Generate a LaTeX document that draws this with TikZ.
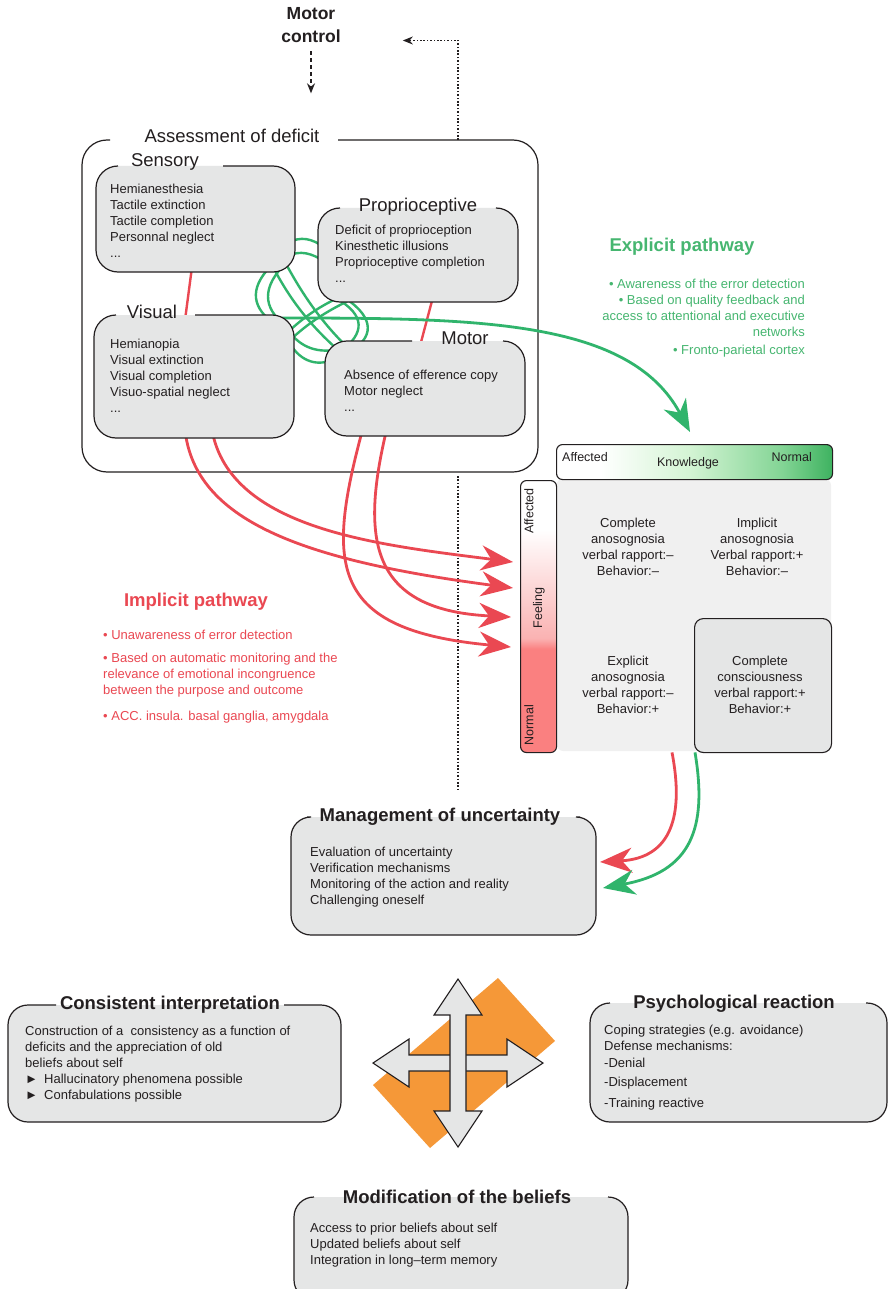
\documentclass[tikz,border=0pt]{standalone}
\usepackage{fontspec}
\setmainfont{Liberation Sans}
\usetikzlibrary{arrows.meta,calc}
\definecolor{boxgray}{RGB}{229,230,230}
\definecolor{gridgray}{RGB}{240,240,240}
\definecolor{lineC}{RGB}{35,31,32}
\definecolor{textC}{RGB}{35,31,32}
\definecolor{greenC}{RGB}{48,180,108}
\definecolor{greenT}{RGB}{70,182,112}
\definecolor{redC}{RGB}{234,72,82}
\definecolor{redT}{RGB}{234,72,82}
\definecolor{orangeC}{RGB}{245,152,56}
\definecolor{kgA}{RGB}{212,244,212}
\definecolor{kgB}{RGB}{130,212,148}
\definecolor{kgC}{RGB}{62,178,96}
\definecolor{fR}{RGB}{250,128,128}
\definecolor{fM}{RGB}{250,178,178}
\pgfdeclarehorizontalshading{knowshade}{100bp}{color(0bp)=(white); color(33bp)=(white); color(49bp)=(kgA); color(66bp)=(kgB); color(75bp)=(kgC); color(100bp)=(kgC)}
\pgfdeclareverticalshading{feelshade}{100bp}{color(0bp)=(fR); color(44bp)=(fR); color(46bp)=(fM); color(66bp)=(white); color(100bp)=(white)}
\pgfdeclarelayer{bg}
\pgfdeclarelayer{mid}
\pgfsetlayers{bg,mid,main}
% #1 fill, #2 name, #3 x1, #4 y1, #5 x2, #6 y2, #7 gap left, #8 gap right, #9 radius
\newcommand\gapbox[9][boxgray]{%
  \node[fill=#1, rounded corners=#9pt, inner sep=0pt, outer sep=0pt, minimum width=#5pt-#3pt, minimum height=#6pt-#4pt, anchor=north west] (#2) at (#3,#4) {};%
  \draw[boxline, rounded corners=#9pt] (#8,#4) -- (#5,#4) -- (#5,#6) -- (#3,#6) -- (#3,#4) -- (#7,#4);%
}
\begin{document}
\begin{tikzpicture}[x=1pt,y=-1pt,
  boxline/.style={draw=lineC, line width=1.2pt},
  body/.style={font=\fontsize{13}{16}\selectfont, inner sep=0pt, align=left, anchor=north west, text=textC},
  ttl/.style={font=\fontsize{18.5}{22}\selectfont, inner sep=0pt, text=textC},
  bttl/.style={font=\fontsize{18.5}{22}\selectfont\bfseries, inner sep=0pt, text=textC},
  cell/.style={font=\fontsize{13}{16}\selectfont, inner sep=0pt, align=center, text=textC},
  lab/.style={font=\fontsize{12.5}{15}\selectfont, inner sep=0pt, text=textC},
  redarr/.style={draw=redC, line width=2.8pt, -{Stealth[length=32pt,width=25pt,inset=10pt]}},
  grnarr/.style={draw=greenC, line width=2.8pt, -{Stealth[length=32pt,width=25pt,inset=10pt]}},
  mesh/.style={draw=greenC, line width=2.4pt},
  redlink/.style={draw=redC, line width=2.4pt},
  dotline/.style={draw=lineC, line width=1.4pt, dash pattern=on 1.6pt off 1.8pt}
]
\useasboundingbox (0,0) rectangle (889,1289);
\begin{pgfonlayer}{bg}
\fill[white] (0,0) rectangle (889,1289);
\end{pgfonlayer}

% ---------- Motor control ----------
\node[font=\fontsize{17.5}{23}\selectfont\bfseries, align=center, inner sep=0pt, text=textC] (motorctl) at (311,25.5) {Motor\\control};
\draw[draw=lineC, line width=1.3pt, dash pattern=on 4pt off 3pt, -{Stealth[length=10pt,width=8pt]}] ($(motorctl.south)+(0,8)$) -- ($(motorctl.south)+(0,50)$);

% ---------- Assessment of deficit ----------
\begin{pgfonlayer}{bg}
\gapbox[white]{assess}{82}{140}{538}{472}{110}{338}{25}
\draw[dotline, -{Stealth[length=10pt,width=8pt]}] ($(assess.north west)+(376,0)$) |- ($(motorctl.east)+(62,15)$);
\end{pgfonlayer}
\node[ttl] (assessT) at (232,136) {Assessment of deficit};

\gapbox{sens}{96}{166}{295}{272}{118}{223}{22}
\node[ttl] (sensT) at (165,162) {Sensory};
\node[body] (sensB) at (110,184) {Hemianesthesia\\Tactile extinction\\Tactile completion\\Personnal neglect\\...};

\gapbox{prop}{318}{208}{518}{302}{340}{497}{22}
\node[ttl] (propT) at (418,207) {Proprioceptive};
\node[body] (propB) at (335,225) {Deficit of proprioception\\Kinesthetic illusions\\Proprioceptive completion\\...};

\gapbox{vis}{94}{315}{294}{438}{116}{195}{22}
\node[ttl] (visT) at (152,312) {Visual};
\node[body] (visB) at (110,339) {Hemianopia\\Visual extinction\\Visual completion\\Visuo-spatial neglect\\...};

\gapbox{mot}{325}{341}{525}{436}{412}{503}{22}
\node[ttl] (motT) at (465,338) {Motor};
\node[body] (motB) at (344,370) {Absence of efference copy\\Motor neglect\\...};

% ---------- Matrix ----------
\node[fill=gridgray, rounded corners=8pt, inner sep=0pt, minimum width=275pt, minimum height=273pt, anchor=north west] (grid) at (556,478) {};
\node[draw=lineC, line width=1.1pt, rounded corners=6pt, shade, shading=knowshade, inner sep=0pt, minimum width=276pt, minimum height=35pt, anchor=north west] (know) at (556,444) {};
\node[draw=lineC, line width=1.1pt, rounded corners=6pt, shade, shading=feelshade, inner sep=0pt, minimum width=36pt, minimum height=272pt, anchor=north west] (feel) at (520,480) {};
\node[fill=boxgray, draw=lineC, line width=1.1pt, rounded corners=9pt, inner sep=0pt, minimum width=137pt, minimum height=134pt, anchor=north west] (bcell) at (694,618) {};
\node[lab, anchor=west] (kAff) at (562,457) {Affected};
\node[lab] (kKnow) at (688,463) {Knowledge};
\node[lab, anchor=east] (kNorm) at (812,457) {Normal};
\node[lab, rotate=90] (fAff) at (529,511) {Affected};
\node[lab, rotate=90] (fFeel) at (539,608) {Feeling};
\node[lab, rotate=90] (fNorm) at (529,725) {Normal};
\node[cell] (cTL) at (628,547) {Complete\\anosognosia\\verbal rapport:–\\Behavior:–};
\node[cell] (cTR) at (757,547) {Implicit\\anosognosia\\Verbal rapport:+\\Behavior:–};
\node[cell] (cBL) at (628,685) {Explicit\\anosognosia\\verbal rapport:–\\Behavior:+};
\node[cell] (cBR) at (760,685) {Complete\\consciousness\\verbal rapport:+\\Behavior:+};

% ---------- Pathway texts ----------
\node[font=\fontsize{18.5}{22}\selectfont\bfseries, text=greenT, inner sep=0pt] (explT) at (682,247) {Explicit pathway};
\node[font=\fontsize{13}{16}\selectfont, text=greenT, inner sep=0pt, align=right, anchor=north east] (explB) at (805,279) {• Awareness of the error detection\\• Based on quality feedback and\\access to attentional and executive\\networks\\[2pt]• Fronto-parietal cortex};
\node[font=\fontsize{18.5}{22}\selectfont\bfseries, text=redT, inner sep=0pt] (implT) at (196,602) {Implicit pathway};
\node[body, text=redT] (implB) at (103,630) {• Unawareness of error detection\\[7pt]• Based on automatic monitoring and the\\relevance of emotional incongruence\\between the purpose and outcome\\[10pt]• ACC. insula. basal ganglia, amygdala};

% ---------- Management ----------
\gapbox{mgmt}{291}{817}{596}{935}{307}{580}{20}
\node[bttl] (mgmtT) at (440,817) {Management of uncertainty};
\node[body] (mgmtB) at (310,847) {Evaluation of uncertainty\\Verification mechanisms\\Monitoring of the action and reality\\Challenging oneself};

\begin{pgfonlayer}{bg}
\draw[dotline] ($(assess.south west)+(376,4)$) -- ($(mgmt.north west)+(167,-28)$);
\end{pgfonlayer}

% ---------- connectors (middle layer) ----------
\begin{pgfonlayer}{mid}
% red links between boxes
\draw[redlink] ($(sens.south west)+(96,-5)$) -- ($(vis.north west)+(91,5)$);
\draw[redlink] ($(prop.south west)+(115,-5)$) -- ($(mot.north west)+(95,5)$);
% green mesh
\draw[mesh] ($(sens.south east)+(-20,-10)$) .. controls (250,285) and (250,305) .. ($(vis.north east)+(-22,7)$);
\draw[mesh] ($(sens.south east)+(-8,-10)$) .. controls (261,287) and (263,308) .. ($(vis.north east)+(-9,10)$);
\draw[mesh] ($(prop.south west)+(12,-7)$) .. controls (364,312) and (366,330) .. ($(mot.north west)+(20,7)$);
\draw[mesh] ($(prop.south west)+(22,-7)$) .. controls (374,315) and (374,335) .. ($(mot.north west)+(30,7)$);
\draw[mesh] ($(sens.south east)+(-7,-29)$) .. controls (300,236) and (312,238) .. ($(prop.south west)+(7,-54)$);
\draw[mesh] ($(sens.south east)+(-7,-16)$) .. controls (300,250) and (312,253) .. ($(prop.south west)+(7,-40)$);
\draw[mesh] ($(vis.north east)+(-6,25)$) .. controls (298,360) and (315,367) .. ($(mot.north west)+(7,19)$);
\draw[mesh] ($(vis.north east)+(-6,15)$) .. controls (302,350) and (320,352) .. ($(mot.north west)+(10,9)$);
\draw[mesh] ($(sens.south east)+(-23,-7)$) .. controls (290,300) and (310,325) .. ($(mot.north west)+(13,9)$);
\draw[mesh] ($(sens.south east)+(-10,-10)$) .. controls (300,290) and (318,318) .. ($(mot.north west)+(20,4)$);
\draw[mesh] ($(vis.north east)+(-9,20)$) .. controls (300,320) and (320,305) .. ($(prop.south west)+(27,-7)$);
\draw[mesh] ($(vis.north east)+(-9,30)$) .. controls (305,325) and (325,312) .. ($(prop.south west)+(32,-2)$);
% explicit pathway arrow
\draw[grnarr] ($(vis.north east)+(-12,3)$) .. controls (480,318) and (630,320) .. ($(know.north west)+(134,-12)$);
% implicit pathway arrows
\draw[redarr] ($(vis.south west)+(91,-8)$) .. controls (195,520) and (300,560) .. ($(feel.north west)+(-7,108)$);
\draw[redarr] ($(vis.south west)+(118,-8)$) .. controls (230,530) and (380,545) .. ($(feel.north west)+(-7,82)$);
\draw[redarr] ($(mot.south west)+(38,-8)$) .. controls (326,565) and (328,630) .. ($(feel.north west)+(-9,167)$);
\draw[redarr] ($(mot.south west)+(62,-8)$) .. controls (360,540) and (370,610) .. ($(feel.north west)+(-9,137)$);
\end{pgfonlayer}

% matrix -> management
\draw[redarr] ($(grid.south west)+(116,1)$) .. controls (684,815) and (672,858) .. ($(mgmt.north east)+(4,45)$);
\draw[grnarr] ($(grid.south west)+(139,1)$) .. controls (708,830) and (690,872) .. ($(mgmt.north east)+(7,71)$);

% ---------- Cross ----------
\fill[orangeC] (498,978) -- (555,1041) -- (430,1148) -- (373,1085) -- cycle;
\begin{scope}[shift={(458,1063)}]
\filldraw[fill=boxgray, draw=lineC, line width=1.1pt] (-85,0) -- (-49,-24) -- (-49,-8) -- (49,-8) -- (49,-24) -- (85,0) -- (49,24) -- (49,8) -- (-49,8) -- (-49,24) -- cycle;
\filldraw[fill=boxgray, draw=lineC, line width=1.1pt] (0,-84) -- (-24,-48) -- (-8,-48) -- (-8,48) -- (-24,48) -- (0,84) -- (24,48) -- (8,48) -- (8,-48) -- (24,-48) -- cycle;
\end{scope}

% ---------- Bottom boxes ----------
\gapbox{cons}{8}{1005}{341}{1122}{56}{284}{20}
\node[bttl] (consT) at (170,1005) {Consistent interpretation};
\node[body] (consB) at (25,1026) {Construction of a\ \ consistency as a function of\\deficits and the appreciation of old\\beliefs about self\\\makebox[19pt][l]{►}Hallucinatory phenomena possible\\\makebox[19pt][l]{►}Confabulations possible};

\gapbox{psych}{590}{1003}{887}{1122}{610}{866}{20}
\node[bttl] (psychT) at (734,1004) {Psychological reaction};
\node[body] (psychB) at (604,1025) {Coping strategies (e.g. avoidance)\\Defense mechanisms:\\[1pt]-Denial\\[3pt]-Displacement\\[5pt]-Training reactive};

\begin{scope}
\clip (0,0) rectangle (889,1289);
\gapbox{modif}{294}{1197}{628}{1300}{314}{608}{20}
\end{scope}
\node[bttl] (modifT) at (457,1197) {Modification of the beliefs};
\node[body] (modifB) at (310,1223) {Access to prior beliefs about self\\Updated beliefs about self\\Integration in long–term memory};
\end{tikzpicture}
\end{document}
